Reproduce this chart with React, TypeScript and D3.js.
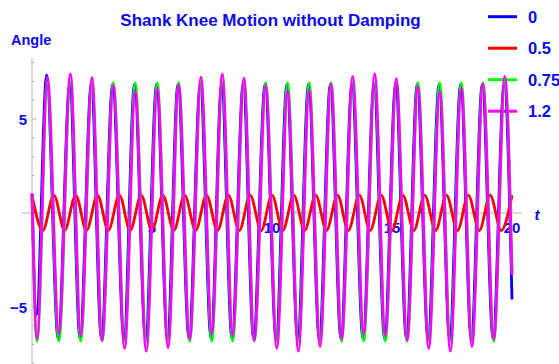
import React from 'react';
import * as d3 from 'd3';

const W = 559, H = 364;

// times of the troughs / peaks of the large curves (trough, peak, trough, ...)
const bigT = [0.21, 0.64, 1.12, 1.60, 2.03, 2.50, 2.92, 3.39, 3.86, 4.30, 4.76, 5.22,
  5.67, 6.11, 6.57, 7.04, 7.49, 7.93, 8.36, 8.83, 9.26, 9.74, 10.20, 10.65, 11.10,
  11.55, 12.00, 12.46, 12.90, 13.36, 13.82, 14.28, 14.72, 15.18, 15.63, 16.08, 16.53,
  16.99, 17.43, 17.89, 18.33, 18.79, 19.24, 19.70];
const blueT = [0.19, 0.61, 1.09, 1.57, 2.00, 2.47, 2.89, 3.36, 3.83, 4.27, 4.73, 5.19,
  5.64, 6.08, 6.54, 7.01, 7.46, 7.90, 8.33, 8.80, 9.23, 9.71, 10.17, 10.62, 11.07,
  11.52, 11.97, 12.43, 12.87, 13.33, 13.79, 14.25, 14.69, 15.15, 15.60, 16.05, 16.50,
  16.96, 17.40, 17.86, 18.30, 18.76, 19.21, 19.67];

const blueV = [-5.4, 7.35, -6.7, 6.85, -6.7, 6.85, -6.7, 6.85, -6.7, 6.85, -6.7, 6.85,
  -6.7, 6.85, -6.7, 6.85, -6.7, 6.85, -6.7, 6.85, -6.7, 6.85, -6.7, 6.85, -6.7, 6.85,
  -6.7, 6.85, -6.7, 6.85, -6.7, 6.85, -6.7, 6.85, -6.7, 6.85, -6.7, 6.85, -6.7, 6.85,
  -6.7, 6.85, -6.7, 6.85];
const greenV = [-6.82, 6.94, -6.82, 6.94, -6.82, 6.94, -6.82, 6.94, -6.82, 6.94, -6.82,
  6.94, -6.82, 6.94, -6.82, 6.94, -6.82, 6.94, -6.82, 6.94, -6.82, 6.94, -6.82, 6.94,
  -6.82, 6.94, -6.82, 6.94, -6.82, 6.94, -6.82, 6.94, -6.82, 6.94, -6.82, 6.94, -6.82,
  6.94, -6.82, 6.94, -6.82, 6.94, -6.82, 6.94];
const magentaV = [-6.68, 7.23, -6.41, 7.4, -6.5, 7.2, -6.77, 6.77, -7.2, 6.5, -7.35, 6.64,
  -7.17, 6.82, -6.71, 7.22, -6.41, 7.4, -6.5, 7.17, -6.77, 6.77, -7.2, 6.5, -7.35, 6.55,
  -7.1, 6.85, -6.71, 7.26, -6.41, 7.4, -6.5, 7.15, -6.77, 6.73, -7.2, 6.46, -7.35, 6.64,
  -7.1, 6.87, -6.71, 7.26];

// start / end values at t = 0 and t = 20
const startV = { blue: 1.0, green: 1.0, magenta: 1.05 };
const endV = { blue: -4.6, green: -3.2, magenta: -3.3 };

// the small 0.5 curve: peak, trough, peak ...
const redT = [0, 0.45, 0.91, 1.36, 1.82, 2.27, 2.73, 3.18, 3.64, 4.09, 4.55, 5.0, 5.45,
  5.91, 6.36, 6.82, 7.27, 7.73, 8.18, 8.64, 9.09, 9.55, 10.0, 10.45, 10.91, 11.36, 11.82,
  12.27, 12.73, 13.18, 13.64, 14.09, 14.55, 15.0, 15.45, 15.91, 16.36, 16.82, 17.27,
  17.73, 18.18, 18.64, 19.09, 19.55, 20.0];
const redV = [0.95, -0.93, 0.95, -0.93, 0.95, -0.93, 0.95, -0.93, 0.95, -0.93, 0.95,
  -0.93, 0.95, -0.93, 0.95, -0.93, 0.95, -0.93, 0.95, -0.93, 0.95, -0.93, 0.95, -0.93,
  0.95, -0.93, 0.95, -0.93, 0.95, -0.93, 0.95, -0.93, 0.95, -0.93, 0.95, -0.93, 0.95,
  -0.93, 0.95, -0.93, 0.95, -0.93, 0.95, -0.93, 0.95];

const legendLabels = ['0', '0.5', '0.75', '1.2'];
const colors = ['#0000ff', '#ff0000', '#00ff00', '#ff00ff'];
const xTickLabels = [5, 10, 15, 20];
const yTickLabels = [-5, 5];

const txt = 'rgb(12,12,235)';
const font = '"Liberation Sans", Arial, sans-serif';

const x = d3.scaleLinear().domain([0, 20]).range([32, 512]);
const y = d3.scaleLinear().domain([-8, 8]).range([363.4, 62.6]);

const line = d3.line<[number, number]>()
  .x(d => x(d[0]))
  .y(d => y(d[1]))
  .curve(d3.curveMonotoneX);

const big = (ts: number[], vs: number[], s: number, e: number): [number, number][] =>
  [[0, s] as [number, number]]
    .concat(ts.map((t, i) => [t, vs[i]] as [number, number]))
    .concat([[20, e] as [number, number]]);

const series = [
  big(blueT, blueV, startV.blue, endV.blue),
  redT.map((t, i) => [t, redV[i]] as [number, number]),
  big(bigT, greenV, startV.green, endV.green),
  big(bigT, magentaV, startV.magenta, endV.magenta),
];

export default function App() {
  const axisCol = '#b4b4b4';
  return (
    <svg width={W} height={H} style={{ position: 'absolute', left: 0, top: 0, background: '#fff' }}
      fontFamily={font} fontWeight="bold">
      {/* axes */}
      <line x1={x(-0.43)} x2={x(20.4)} y1={y(0)} y2={y(0)} stroke={axisCol} strokeWidth={1} />
      <line x1={x(0)} x2={x(0)} y1={y(8.25)} y2={H} stroke={axisCol} strokeWidth={1} />
      {d3.range(1, 21).map(t => (
        <line key={'xt' + t} x1={x(t)} x2={x(t)} y1={y(0)}
          y2={y(0) - (t % 5 === 0 ? 4.5 : 2.5)} stroke={axisCol} />
      ))}
      {d3.range(-8, 9).filter(v => v !== 0).map(v => (
        <line key={'yt' + v} x1={x(0)} x2={x(0) + (v % 5 === 0 ? 4.5 : 2.5)}
          y1={y(v)} y2={y(v)} stroke={axisCol} />
      ))}
      {xTickLabels.map(t => (
        <text key={'xl' + t} x={x(t)} y={y(0) + 20} textAnchor="middle" fontSize={15} fill={txt}>{t}</text>
      ))}
      {yTickLabels.map(v => (
        <text key={'yl' + v} x={27} y={y(v) + 5.5} textAnchor="end" fontSize={15} fill={txt}>
          {v < 0 ? '\u2212' + Math.abs(v) : v}
        </text>
      ))}
      <text x={11} y={45} fontSize={14.5} fill={txt}>Angle</text>
      <text x={537} y={220} fontSize={15} fontStyle="italic" textAnchor="middle" fill={txt}>t</text>
      <text x={270.5} y={26} fontSize={17} textAnchor="middle" fill={txt}>Shank Knee Motion without Damping</text>

      {/* legend */}
      {legendLabels.map((l, i) => (
        <g key={'lg' + i} transform={`translate(0,${16.7 + i * 31.5})`}>
          <line x1={488} x2={517} y1={0} y2={0} stroke={colors[i]} strokeWidth={3} />
          <text x={528} y={6} fontSize={16.5} fill={txt}>{l}</text>
        </g>
      ))}

      {/* curves */}
      {series.map((d, i) => (
        <path key={'s' + i} d={line(d) || ''} fill="none" stroke={colors[i]}
          strokeWidth={2.8} strokeLinejoin="round" />
      ))}
    </svg>
  );
}
